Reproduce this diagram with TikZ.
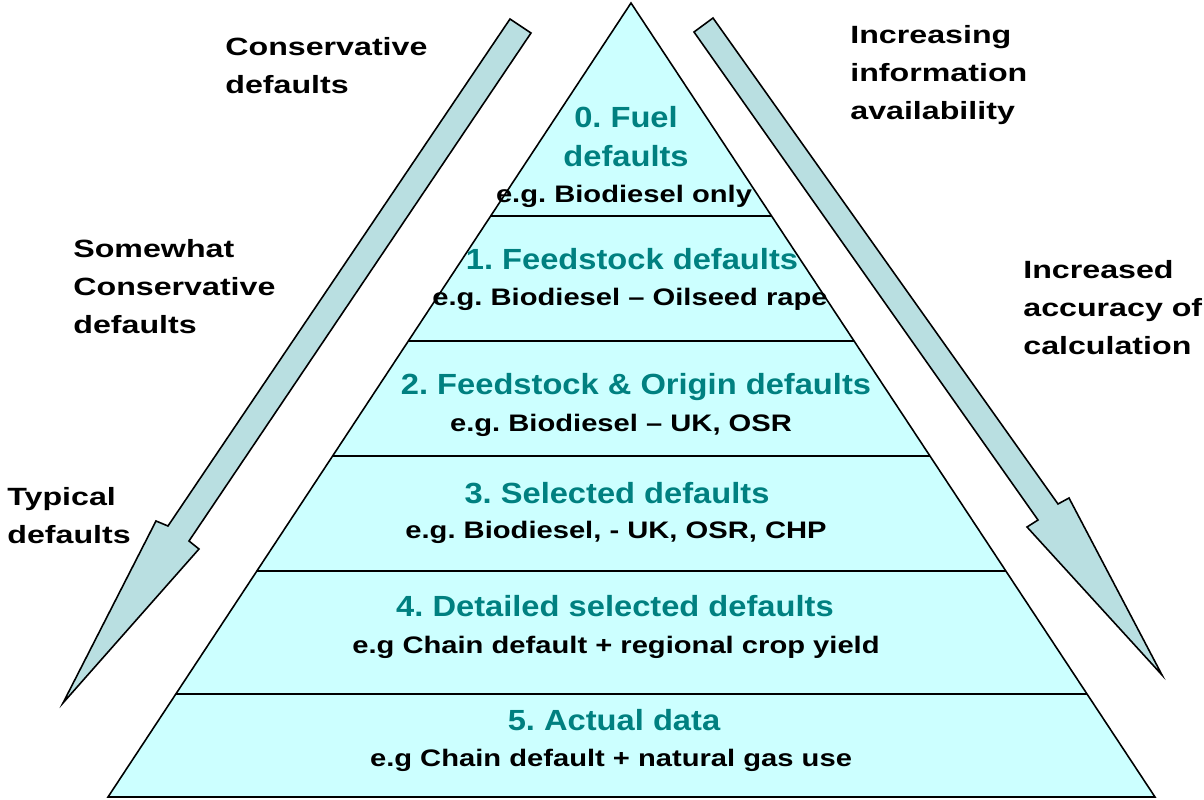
\documentclass[tikz,border=0pt]{standalone}
\usepackage{fontspec}
\setmainfont{Liberation Sans}
\usetikzlibrary{positioning,calc}
\definecolor{layerfill}{RGB}{204,255,255}
\definecolor{arrowfill}{RGB}{185,223,225}
\definecolor{titleteal}{RGB}{0,128,128}
\newcommand\wt[1]{\scalebox{1.12}[1]{#1}}
\newcommand\we[1]{\scalebox{1.22}[1]{#1}}
\newcommand\ws[1]{\scalebox{1.29}[1]{#1}}
\frenchspacing

\begin{document}
\begin{tikzpicture}[x=0.02cm,y=-0.02cm,
  title/.style={text=titleteal,font=\fontsize{16.6}{22}\selectfont\bfseries,inner sep=0,anchor=base},
  example/.style={font=\fontsize{13.6}{18}\selectfont\bfseries,inner sep=0,anchor=base},
  side/.style={font=\fontsize{14.2}{21.6}\selectfont\bfseries,inner sep=0,anchor=north west,align=left},
  bigarrow/.style={draw=black,fill=arrowfill,line width=0.9pt,line join=miter}]
 \useasboundingbox (0,0) rectangle (1204,800);
 \coordinate (apex) at (631,3);
 \coordinate (bl) at (108,797);
 \coordinate (br) at (1155,797);
 \draw[line width=0.9pt,fill=layerfill] (apex)--(br)--(bl)--cycle;
 \foreach \y in {216,341,456,571,694}
   \draw[line width=0.9pt] ($(apex)!{(\y-3)/794}!(bl)$) -- ($(apex)!{(\y-3)/794}!(br)$);
 \draw[bigarrow] (510,19)--(531,33)--(189,541)--(199,549)--(63,703)--(156,521)--(168,526)--cycle;
 \draw[bigarrow] (713,18)--(1058,504)--(1069,498)--(1162,675)--(1027,527)--(1038,520)--(694,32)--cycle;
 \node[title] (t0) at (626,128) {\wt{0. Fuel}};
 \node[title] (t0b) at (626,167) {\wt{defaults}};
 \node[example] (e0) at (624,203) {\we{e.g. Biodiesel only}};
 \node[title] (t1) at (632,270) {\wt{1. Feedstock defaults}};
 \node[example] (e1) at (630,306) {\we{e.g. Biodiesel -- Oilseed rape}};
 \node[title] (t2) at (636,395) {\wt{2. Feedstock \& Origin defaults}};
 \node[example] (e2) at (621,432) {\we{e.g. Biodiesel -- UK, OSR}};
 \node[title] (t3) at (617,503) {\wt{3. Selected defaults}};
 \node[example] (e3) at (616,539) {\we{e.g. Biodiesel, - UK, OSR, CHP}};
 \node[title] (t4) at (615,616) {\wt{4. Detailed selected defaults}};
 \node[example] (e4) at (616,653) {\we{e.g Chain default + regional crop yield}};
 \node[title] (t5) at (614,730) {\wt{5. Actual data}};
 \node[example] (e5) at (611,766) {\we{e.g Chain default + natural gas use}};
 \node[side] (cons) at (225,37) {\ws{Conservative}\\\ws{defaults}};
 \node[side] (somewhat) at (73,239) {\ws{Somewhat}\\\ws{Conservative}\\\ws{defaults}};
 \node[side] (typical) at (7,487) {\ws{Typical}\\\ws{defaults}};
 \node[side] (info) at (850,25) {\ws{Increasing}\\\ws{information}\\\ws{availability}};
 \node[side] (accuracy) at (1023,260) {\ws{Increased}\\\ws{accuracy of}\\\ws{calculation}};
\end{tikzpicture}
\end{document}
